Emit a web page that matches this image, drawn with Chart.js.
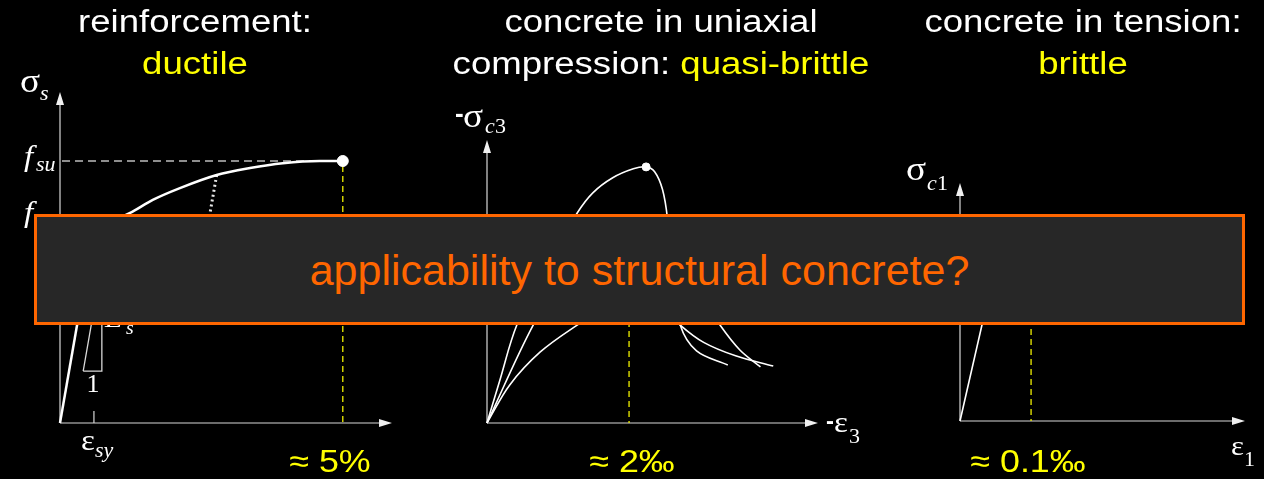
<!DOCTYPE html>
<html><head><meta charset="utf-8">
<script src="https://cdn.jsdelivr.net/npm/chart.js@4/dist/chart.umd.min.js"></script>
<style>
html,body{margin:0;padding:0;background:#000;width:1264px;height:479px;overflow:hidden;}
canvas{position:absolute;left:0;top:0;}
.t{position:absolute;top:1px;width:460px;font-family:"Liberation Sans",Arial,sans-serif;font-size:31px;line-height:42px;color:#fff;text-align:center;transform:scaleX(1.18);transform-origin:center;white-space:nowrap;}
.y{color:#ffff00;}
#box{position:absolute;left:34px;top:214px;width:1205px;height:105px;border:3px solid #ff6600;background:#272727;}
#q{position:absolute;left:0;top:32px;width:1205px;text-align:center;font-family:"Liberation Sans",Arial,sans-serif;font-size:43px;line-height:43px;color:#ff6600;white-space:nowrap;}
</style></head>
<body>
<canvas id="c1" width="1264" height="479"></canvas>
<canvas id="c2" width="1264" height="479"></canvas>
<canvas id="c3" width="1264" height="479"></canvas>
<div class="t" style="left:-35px">reinforcement:<br><span class="y">ductile</span></div>
<div class="t" style="left:431px">concrete in uniaxial<br>compression: <span class="y">quasi-brittle</span></div>
<div class="t" style="left:853px">concrete in tension:<br><span class="y">brittle</span></div>
<div id="box"><div id="q">applicability to structural concrete?</div></div>
<script>
// ---- reinforcement (strain in %, stress in MPa) ----
const steelElasticStrain = [0, 0.60];
const steelElasticStress = [0, 446];
const steelHardStrain = [0.60, 0.92, 1.24, 1.64, 2.12, 2.77, 3.36, 3.94, 4.59, 5.0];
const steelHardStress = [446, 462, 481, 511, 538, 568, 584, 595, 600, 600];
const steelUnloadStrain = [2.77, 2.53];
const steelUnloadStress = [568, 390];
const slopeTriStrain = [0.41, 0.74, 0.74, 0.41];
const slopeTriStress = [119, 119, 364, 119];
const fsu = 600, esy = 0.60, esu = 5.0;

// ---- concrete in compression (strain in ‰, stress in MPa) ----
const compAStrain = [0, 0.18, 0.42, 0.82, 1.27, 1.49, 1.77, 2.06, 2.24, 2.36, 2.47, 2.54, 2.60, 2.72, 2.95, 3.39];
const compAStress = [0, 13.3, 30.6, 48.4, 65.6, 71.9, 76.6, 79.4, 80, 78.5, 73, 64, 47, 30.6, 22.5, 18.1];
const compBStrain = [0, 0.65, 1.03, 1.45, 1.87, 2.08, 2.44, 2.86, 3.28, 3.56, 3.85];
const compBStress = [0, 30.6, 43.1, 52.5, 58.8, 60.3, 57.2, 44.7, 30.6, 22.8, 17.5];
const compCStrain = [0, 0.32, 0.75, 1.27, 1.73, 2.15, 2.44, 2.72, 3.05, 3.5, 4.03];
const compCStress = [0, 11.9, 22.2, 30.6, 36.9, 39.4, 36.9, 30.6, 25.2, 21.0, 17.8];
const ec = 2.0;

// ---- concrete in tension (strain in ‰, stress in MPa) ----
const tensStrain = [0, 0.055, 0.07];
const tensStress = [0, 2.85, 1.8];
const ect = 0.1;

// ---- texts ----
const bottomLabels = ["\u2248 5%", "\u2248 2\u2030", "\u2248 0.1\u2030"];

const SERIF = '"Liberation Serif","DejaVu Serif",serif';
const SANS = '"Liberation Sans",Arial,sans-serif';

function pts(xs, ys){ return xs.map((x,i)=>({x:x,y:ys[i]})); }
function txt(ctx, s, x, y, font, color, sx, align){
  ctx.save(); ctx.font = font; ctx.fillStyle = color || '#fff';
  ctx.textBaseline = 'alphabetic'; ctx.textAlign = align || 'left';
  ctx.translate(x, y); ctx.scale(sx || 1.1, 1); ctx.fillText(s, 0, 0); ctx.restore();
}
function axes(ctx, a){
  ctx.save();
  ctx.strokeStyle = '#d8d8d8'; ctx.fillStyle = '#f0f0f0'; ctx.lineWidth = 1.2;
  ctx.beginPath();
  ctx.moveTo(a.left, a.bottom); ctx.lineTo(a.left, a.top + 10);
  ctx.moveTo(a.left, a.bottom); ctx.lineTo(a.right - 10, a.bottom);
  ctx.stroke();
  ctx.beginPath();
  ctx.moveTo(a.left, a.top); ctx.lineTo(a.left - 4, a.top + 13); ctx.lineTo(a.left + 4, a.top + 13); ctx.closePath();
  ctx.moveTo(a.right, a.bottom); ctx.lineTo(a.right - 13, a.bottom - 4); ctx.lineTo(a.right - 13, a.bottom + 4); ctx.closePath();
  ctx.fill();
  ctx.restore();
}
function dashed(ctx, x1, y1, x2, y2, color, dash, w){
  ctx.save(); ctx.strokeStyle = color; ctx.setLineDash(dash); ctx.lineWidth = w || 1.3;
  ctx.beginPath(); ctx.moveTo(x1, y1); ctx.lineTo(x2, y2); ctx.stroke(); ctx.restore();
}

const deco = {
  id: 'deco',
  beforeDatasetsDraw(chart, args, opts){ if (opts.before) opts.before(chart.ctx, chart.scales.x, chart.scales.y, chart.chartArea); },
  afterDatasetsDraw(chart, args, opts){ if (opts.after) opts.after(chart.ctx, chart.scales.x, chart.scales.y, chart.chartArea); }
};

function makeChart(id, datasets, xmax, ymax, pad, before, after){
  return new Chart(document.getElementById(id), {
    type: 'scatter',
    data: { datasets: datasets },
    options: {
      responsive: false, animation: false, devicePixelRatio: 1,
      layout: { padding: pad },
      scales: {
        x: { type: 'linear', display: false, min: 0, max: xmax },
        y: { type: 'linear', display: false, min: 0, max: ymax }
      },
      plugins: { legend: { display: false }, tooltip: { enabled: false }, deco: { before: before, after: after } },
      elements: { point: { radius: 0 } }
    },
    plugins: [deco]
  });
}
function line(data, w, extra){
  return Object.assign({ data: data, showLine: true, borderColor: '#ffffff', borderWidth: w, pointRadius: 0, clip: false, fill: false }, extra || {});
}

// Chart 1: reinforcement
makeChart('c1', [
  line(pts(steelElasticStrain, steelElasticStress), 2.5),
  line(pts(steelHardStrain, steelHardStress), 2.5, { cubicInterpolationMode: 'monotone' }),
  line(pts(steelUnloadStrain, steelUnloadStress), 3, { borderDash: [2, 3], borderColor: '#e8e8e8' }),
  line(pts(slopeTriStrain, slopeTriStress), 1.3, { borderColor: '#d8d8d8' }),
  { data: [{ x: esu, y: fsu }], pointRadius: 5.5, pointBackgroundColor: '#fff', pointBorderColor: '#fff', clip: false }
], 5.87, 758, { left: 60, right: 872, top: 92, bottom: 56 },
(ctx, xs, ys, a) => {
  axes(ctx, a);
  const yf = ys.getPixelForValue(fsu), xe = xs.getPixelForValue(esu);
  dashed(ctx, a.left + 2, yf, xe, yf, '#bdbdbd', [8, 5], 1.3);
  dashed(ctx, xe, yf + 5, xe, a.bottom, '#f0f000', [6, 4], 1.3);
  const xy = xs.getPixelForValue(esy);
  ctx.save(); ctx.strokeStyle = '#d8d8d8'; ctx.lineWidth = 1.2; ctx.beginPath();
  ctx.moveTo(xy, a.bottom); ctx.lineTo(xy, a.bottom - 12); ctx.stroke(); ctx.restore();
},
(ctx, xs, ys, a) => {
  txt(ctx, '\u03c3', 20, 92, '34px ' + SERIF, '#fff', 1.1);
  txt(ctx, 's', 40, 100, 'italic 20px ' + SERIF, '#fff', 1.1);
  const yf = ys.getPixelForValue(fsu);
  txt(ctx, 'f', 24, yf + 5, 'italic 30px ' + SERIF, '#fff', 1.1);
  txt(ctx, 'su', 36, yf + 10, 'italic 20px ' + SERIF, '#fff', 1.1);
  txt(ctx, 'f', 24, 222, 'italic 30px ' + SERIF, '#fff', 1.1);
  txt(ctx, 'sy', 36, 228, 'italic 20px ' + SERIF, '#fff', 1.1);
  txt(ctx, '\u03b5', 81, 450, '30px ' + SERIF, '#fff', 1.1);
  txt(ctx, 'sy', 95, 457, 'italic 20px ' + SERIF, '#fff', 1.1);
  txt(ctx, '1', 93, 392, '26px ' + SERIF, '#fff', 1.0, 'center');
  txt(ctx, 'E', 105, 327, 'italic 26px ' + SERIF, '#fff', 1.1);
  txt(ctx, 's', 126, 334, 'italic 18px ' + SERIF, '#fff', 1.1);
  txt(ctx, bottomLabels[0], 330, 472, '32px ' + SANS, '#ffff00', 1.12, 'center');
});

// Chart 2: concrete in compression
makeChart('c2', [
  line(pts(compAStrain, compAStress), 1.6, { tension: 0.35 }),
  line(pts(compBStrain, compBStress), 1.6, { tension: 0.35 }),
  line(pts(compCStrain, compCStress), 1.6, { tension: 0.35 }),
  { data: [{ x: 2.24, y: 80 }], pointRadius: 4, pointBackgroundColor: '#fff', pointBorderColor: '#fff', clip: false }
], 4.66, 88.4, { left: 487, right: 446, top: 140, bottom: 56 },
(ctx, xs, ys, a) => {
  axes(ctx, a);
  const x2 = xs.getPixelForValue(ec);
  dashed(ctx, x2, ys.getPixelForValue(60), x2, a.bottom, '#f0f000', [6, 4], 1.3);
},
(ctx, xs, ys, a) => {
  txt(ctx, '-', 455, 122, 'bold 26px ' + SANS, '#fff', 1.0);
  txt(ctx, '\u03c3', 463, 127, '34px ' + SERIF, '#fff', 1.1);
  txt(ctx, 'c', 485, 133, 'italic 20px ' + SERIF, '#fff', 1.1);
  txt(ctx, '3', 495, 133, '20px ' + SERIF, '#fff', 1.1);
  txt(ctx, '-', 826, 429, 'bold 24px ' + SANS, '#fff', 1.0);
  txt(ctx, '\u03b5', 834, 432, '30px ' + SERIF, '#fff', 1.1);
  txt(ctx, '3', 849, 443, '20px ' + SERIF, '#fff', 1.1);
  txt(ctx, bottomLabels[1], 632, 472, '32px ' + SANS, '#ffff00', 1.12, 'center');
});

// Chart 3: concrete in tension
makeChart('c3', [
  line(pts(tensStrain, tensStress), 1.6)
], 0.401, 3.97, { left: 960, right: 19, top: 183, bottom: 58 },
(ctx, xs, ys, a) => {
  axes(ctx, a);
  const x1 = xs.getPixelForValue(ect);
  dashed(ctx, x1, ys.getPixelForValue(2.2), x1, a.bottom, '#f0f000', [6, 4], 1.3);
},
(ctx, xs, ys, a) => {
  txt(ctx, '\u03c3', 906, 180, '34px ' + SERIF, '#fff', 1.1);
  txt(ctx, 'c', 927, 190, 'italic 20px ' + SERIF, '#fff', 1.1);
  txt(ctx, '1', 937, 190, '20px ' + SERIF, '#fff', 1.1);
  txt(ctx, '\u03b5', 1231, 455, '28px ' + SERIF, '#fff', 1.1);
  txt(ctx, '1', 1244, 466, '22px ' + SERIF, '#fff', 1.0);
  txt(ctx, bottomLabels[2], 1028, 472, '32px ' + SANS, '#ffff00', 1.12, 'center');
});
</script>
</body></html>
